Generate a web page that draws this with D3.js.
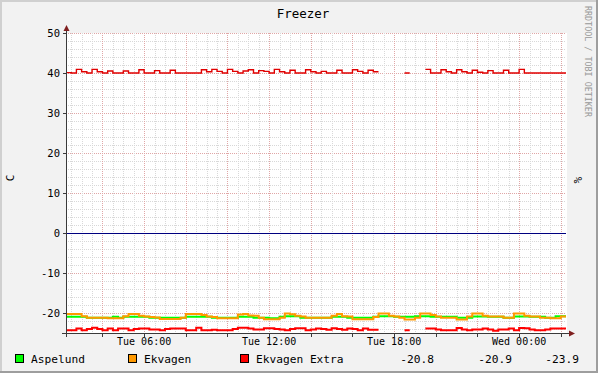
<!DOCTYPE html>
<html>
<head>
<meta charset="utf-8">
<script src="https://cdn.jsdelivr.net/npm/d3@7.9.0/dist/d3.min.js"></script>
<style>
  html, body { margin: 0; padding: 0; background: #f2f2f2; }
  svg { display: block; font-family: 'DejaVu Sans Mono', monospace; }
</style>
</head>
<body>
<svg id="chart" width="598" height="373"></svg>
<script>
// 15 minute samples starting Tue 02:15, 96 per series
const aspelund = [
  -20.95, -20.95, -20.95, -20.95, -21.2, -21.2, -21.2, -21.2, -21.2, -20.95,
  -21.2, -20.95, -20.95, -20.95, -20.95, -20.95, -21.2, -21.2, -21.2, -21.2,
  -21.2, -21.2, -21.2, -20.95, -20.95, -20.95, -20.95, -20.95, -21.2, -21.2,
  -21.2, -21.2, -21.2, -20.95, -20.95, -20.95, -21.2, -21.2, -21.2, -21.3,
  -21.3, -20.95, -20.8, -20.8, -20.8, -21.2, -21.2, -21.2, -21.2, -21.2,
  -21.2, -20.95, -20.95, -20.95, -21.2, -21.2, -21.2, -21.2, -21.2, -20.95,
  -20.8, -20.8, -20.8, -20.95, -20.95, -20.95, -20.95, -20.8, -20.8, -20.8,
  -20.95, -20.95, -20.95, -20.95, -20.95, -21.2, -21.2, -21.2, -20.85, -20.85,
  -20.85, -20.95, -20.95, -20.95, -21.2, -21.2, -20.85, -20.85, -20.85, -20.95,
  -20.95, -20.95, -21.2, -21.2, -20.8, -20.8
];
const ekvagen = [
  -20.25, -20.25, -20.25, -20.8, -21.2, -21.2, -21.2, -21.2, -21.3, -21.3,
  -21.3, -20.8, -20.25, -20.25, -20.7, -20.9, -21.0, -21.1, -21.5, -21.5,
  -21.5, -21.5, -21.2, -20.25, -20.25, -20.25, -20.5, -20.9, -21.0, -21.3,
  -21.3, -21.3, -21.3, -20.4, -20.25, -20.6, -20.7, -21.2, -21.55, -21.55,
  -21.55, -21.2, -20.1, -20.3, -20.7, -20.9, -21.2, -21.2, -21.2, -21.2,
  -21.2, -20.7, -20.25, -20.8, -20.9, -21.55, -21.55, -21.55, -21.55, -21.0,
  -20.1, -20.1, -20.7, -20.9, -21.2, -21.6, -21.6, -21.2, -20.1, -20.1,
  -20.5, -20.9, -21.2, -21.2, -21.2, -21.6, -21.6, -20.9, -20.1, -20.1,
  -20.7, -20.9, -20.9, -20.9, -21.2, -21.2, -20.1, -20.1, -20.7, -20.9,
  -20.9, -21.2, -21.2, -21.3, -21.3, -20.9
];
const ekvagenExtra = [
  -24.3, -24.3, -23.9, -24.3, -24.0, -23.7, -24.0, -24.3, -23.9, -24.3,
  -23.9, -23.9, -24.3, -24.0, -23.9, -23.9, -24.1, -24.1, -24.3, -24.0,
  -23.9, -23.9, -23.9, -24.3, -24.3, -23.7, -24.3, -24.3, -24.2, -24.3,
  -24.3, -24.3, -24.0, -23.7, -23.7, -23.9, -24.1, -24.1, -23.8, -23.8,
  -24.0, -24.1, -24.3, -24.0, -23.8, -23.8, -24.3, -24.1, -23.9, -24.0,
  -24.2, -23.8, -24.0, -24.2, -23.9, -24.0, -24.3, -23.9, -24.2, -24.2,
  null, null, null, null, null, -24.3, null, null, null, -23.85,
  -23.9, -24.1, -24.3, -24.3, -24.3, -23.75, -24.1, -24.3, -24.1, -24.1,
  -23.85, -24.1, -24.45, -24.1, -24.1, -23.85, -24.3, -23.75, -23.8, -24.1,
  -24.3, -24.3, -24.1, -23.85, -23.9, -23.9
];
const ekvagenExtraHum = [
  40.1, 40, 40.9, 40.3, 40, 40.9, 40.3, 40, 40.5, 40,
  40, 40.5, 40, 40, 40.8, 40, 40, 40.6, 40, 40,
  40.7, 40, 40, 40, 40, 40, 40.8, 40.3, 40.9, 40.4,
  40, 40.9, 40.4, 40, 40.5, 40.8, 40, 40.6, 40.4, 40,
  40.9, 40.3, 40, 40.7, 40, 40, 40.8, 40.3, 40, 40.4,
  40, 40, 40.7, 40, 40, 40.8, 40.4, 40, 40.7, 40.3,
  null, null, null, null, null, 40, null, null, null, 40.9,
  40, 40, 40.8, 40.3, 40, 40.8, 40.3, 40, 40.7, 40.2,
  40, 40.6, 40, 40, 40.7, 40, 40, 40.9, 40, 40,
  40, 40, 40, 40, 40, 40
];
const hrules = [0];

const legendNames = ['Aspelund', 'Ekvagen', 'Ekvagen Extra'];
const legendColors = ['#00ff00', '#ff9900', '#ff0000'];
const lastValues = ['-20.8', '-20.9', '-23.9'];
const yTicks = [-20, -10, 0, 10, 20, 30, 40, 50];

const start = new Date(2024, 0, 2, 2, 15);
const end = d3.timeHour.offset(start, 24);
const stepMin = 15;

const svg = d3.select('#chart');
const W = 598, H = 373;

const x = d3.scaleTime().domain([start, end]).range([66, 566]);
const y = d3.scaleLinear().domain([-25, 50]).range([333, 33]);

// background + shading
svg.append('rect').attr('width', W).attr('height', H).attr('fill', '#f2f2f2');
svg.append('rect').attr('x', 0).attr('y', 0).attr('width', W).attr('height', 2).attr('fill', '#d0d0d0');
svg.append('rect').attr('x', 0).attr('y', 0).attr('width', 2).attr('height', H).attr('fill', '#d0d0d0');
svg.append('rect').attr('x', 0).attr('y', H - 2).attr('width', W).attr('height', 2).attr('fill', '#9e9e9e');
svg.append('rect').attr('x', W - 2).attr('y', 0).attr('width', 2).attr('height', H).attr('fill', '#9e9e9e');

// canvas
svg.append('rect')
  .attr('x', x.range()[0]).attr('y', y.range()[1])
  .attr('width', x.range()[1] - x.range()[0] + 1)
  .attr('height', y.range()[0] - y.range()[1])
  .attr('fill', '#ffffff');

const grid = svg.append('g');
const minorColor = '#d8d8d8';
const majorColor = '#e0a6a6';

// horizontal grid
d3.range(-24, 51, 2).forEach(v => {
  const major = v % 10 === 0;
  grid.append('line')
    .attr('x1', 66).attr('x2', 566)
    .attr('y1', Math.round(y(v)) + 0.5).attr('y2', Math.round(y(v)) + 0.5)
    .attr('stroke', major ? majorColor : minorColor)
    .attr('stroke-dasharray', '1,1');
});

// vertical grid
const majorTimes = d3.timeHour.every(2).range(start, end);
d3.timeMinute.every(30).range(start, end).forEach(t => {
  const major = t.getMinutes() === 0 && t.getHours() % 2 === 0;
  grid.append('line')
    .attr('x1', Math.round(x(t)) + 0.5).attr('x2', Math.round(x(t)) + 0.5)
    .attr('y1', 33).attr('y2', 333)
    .attr('stroke', major ? majorColor : minorColor)
    .attr('stroke-dasharray', '1,1');
});

// series
function stepPoints(values) {
  const pts = [];
  values.forEach((v, i) => {
    const t = d3.timeMinute.offset(start, i * stepMin);
    if (v == null) { pts.push({ t, v: null }); return; }
    pts.push({ t, v });
    const next = values[i + 1];
    if (next == null) pts.push({ t: d3.timeMinute.offset(start, (i + 1) * stepMin), v });
  });
  return pts;
}

const line = d3.line()
  .defined(d => d.v != null)
  .x(d => x(d.t))
  .y(d => y(d.v))
  .curve(d3.curveStepAfter);

hrules.forEach(v => {
  svg.append('line')
    .attr('x1', 66).attr('x2', 566)
    .attr('y1', y(v) + 0.5).attr('y2', y(v) + 0.5)
    .attr('stroke', '#000080')
    .attr('stroke-width', 1.2);
});

svg.append('path').datum(stepPoints(ekvagenExtraHum))
  .attr('d', line).attr('fill', 'none')
  .attr('stroke', '#e00000').attr('stroke-width', 1.4);

[aspelund, ekvagen, ekvagenExtra].forEach((s, i) => {
  svg.append('path').datum(stepPoints(s))
    .attr('d', line).attr('fill', 'none')
    .attr('stroke', legendColors[i]).attr('stroke-width', 2);
});

// axes
const axisColor = '#3a3a3a';
const arrowColor = '#7f1f1f';
svg.append('line').attr('x1', 66.5).attr('x2', 66.5).attr('y1', 337).attr('y2', 30)
  .attr('stroke', axisColor);
svg.append('line').attr('x1', 62).attr('x2', 570).attr('y1', 333.5).attr('y2', 333.5)
  .attr('stroke', axisColor);
svg.append('path').attr('d', 'M63.5,31 L69.5,31 L66.5,25 Z').attr('fill', arrowColor);
svg.append('path').attr('d', 'M569,330.5 L569,336.5 L575,333.5 Z').attr('fill', arrowColor);

yTicks.forEach(v => {
  svg.append('line')
    .attr('x1', 63).attr('x2', 66)
    .attr('y1', Math.round(y(v)) + 0.5).attr('y2', Math.round(y(v)) + 0.5)
    .attr('stroke', axisColor);
  svg.append('text')
    .attr('x', 60).attr('y', y(v) + 4)
    .attr('text-anchor', 'end')
    .attr('font-size', 10.5)
    .text(v);
});

majorTimes.forEach(t => {
  svg.append('line')
    .attr('x1', Math.round(x(t)) + 0.5).attr('x2', Math.round(x(t)) + 0.5)
    .attr('y1', 333).attr('y2', 337)
    .attr('stroke', axisColor);
});

const fmt = d3.timeFormat('%a %H:%M');
d3.timeHour.every(6).range(start, end).forEach(t => {
  svg.append('text')
    .attr('x', x(t)).attr('y', 345)
    .attr('text-anchor', 'middle')
    .attr('font-size', 10)
    .text(fmt(t));
});

// titles
svg.append('text').attr('x', 303).attr('y', 18)
  .attr('text-anchor', 'middle').attr('font-size', 12.5).text('Freezer');
svg.append('text').attr('transform', 'translate(14,178) rotate(-90)')
  .attr('text-anchor', 'middle').attr('font-size', 11).text('C');
svg.append('text').attr('transform', 'translate(574,180) rotate(90)')
  .attr('text-anchor', 'middle').attr('font-size', 11).text('%');
svg.append('text').attr('transform', 'translate(585,6) rotate(90)')
  .attr('text-anchor', 'start').attr('font-size', 8.4).attr('fill', '#999999')
  .text('RRDTOOL / TOBI OETIKER');

// legend
const legendX = [15, 128, 240];
legendNames.forEach((name, i) => {
  svg.append('rect')
    .attr('x', legendX[i] + 0.5).attr('y', 354.5)
    .attr('width', 8).attr('height', 8)
    .attr('fill', legendColors[i]).attr('stroke', '#000');
  svg.append('text')
    .attr('x', legendX[i] + 16).attr('y', 363)
    .attr('font-size', 11.2)
    .text(name);
});
const valueX = [434, 512, 579];
lastValues.forEach((v, i) => {
  svg.append('text')
    .attr('x', valueX[i]).attr('y', 363)
    .attr('text-anchor', 'end')
    .attr('font-size', 11.2)
    .text(v);
});
</script>
</body>
</html>
